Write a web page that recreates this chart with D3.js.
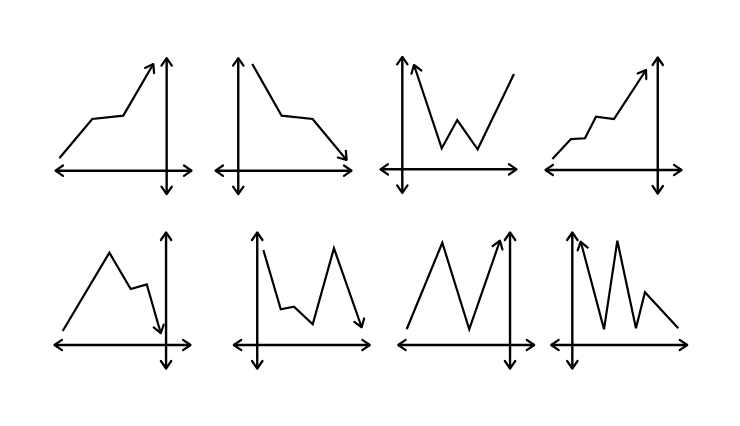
<!DOCTYPE html>
<html>
<head>
<meta charset="utf-8">
<script src="https://cdn.jsdelivr.net/npm/d3@7"></script>
<style>
  html, body { margin: 0; padding: 0; background: #fff; }
  svg { display: block; }
</style>
</head>
<body>
<svg id="chart" width="740" height="426"></svg>
<script>
// ---- Data (values in each panel's own units: x 0..100 along the horizontal axis, y 0..100 above it) ----
const panel1X = [3.2, 27.4, 50.2, 72.3];
const panel1Y = [11.0, 45.8, 48.7, 94.4];
const panel2X = [27.4, 49.0, 71.8, 96.8];
const panel2Y = [94.4, 48.7, 45.8, 9.5];
const panel3X = [25.0, 45.4, 56.8, 71.8, 98.5];
const panel3Y = [92.3, 18.6, 43.6, 17.7, 84.3];
const panel4X = [5.4, 19.1, 29.4, 37.5, 50.7, 74.3];
const panel4Y = [9.7, 27.4, 28.1, 47.2, 45.1, 88.5];
const panel5X = [6.4, 40.7, 56.4, 68.2, 78.5];
const panel5Y = [12.4, 81.7, 49.6, 53.7, 10.4];
const panel6X = [22.1, 34.9, 44.6, 58.4, 74.0, 94.4];
const panel6Y = [84.1, 31.6, 33.9, 18.3, 85.6, 15.7];
const panel7X = [6.6, 32.8, 52.6, 75.2];
const panel7Y = [13.9, 90.5, 13.9, 92.3];
const panel8X = [22.1, 39.2, 49.0, 62.7, 69.3, 93.8];
const panel8Y = [91.4, 13.9, 92.3, 14.8, 46.6, 14.8];
// position of the vertical axis along the x units
const verticalAxisAt = [82.1, 17.1, 16.4, 82.9, 82.4, 17.6, 82.6, 15.9];
// which end of the series carries the arrowhead
const arrowEnd = ["end", "end", "start", "end", "end", "end", "end", "start"];

const seriesX = [panel1X, panel2X, panel3X, panel4X, panel5X, panel6X, panel7X, panel8X];
const seriesY = [panel1Y, panel2Y, panel3Y, panel4Y, panel5Y, panel6Y, panel7Y, panel8Y];

// ---- Layout ----
const frames = [
  {left: 55,    axisY: 170.7},
  {left: 215,   axisY: 170.7},
  {left: 380,   axisY: 169.3},
  {left: 545,   axisY: 170.0},
  {left: 54,    axisY: 345.0},
  {left: 233.3, axisY: 345.0},
  {left: 397.7, axisY: 345.0},
  {left: 550.7, axisY: 345.0}
];
const W = 136, UP = 113, DOWN = 23;

const svg = d3.select("#chart");
const defs = svg.append("defs");
defs.append("marker")
  .attr("id", "chev")
  .attr("markerUnits", "userSpaceOnUse")
  .attr("viewBox", "-12 -8 16 16")
  .attr("refX", 0).attr("refY", 0)
  .attr("markerWidth", 16).attr("markerHeight", 16)
  .attr("orient", "auto-start-reverse")
  .append("path")
  .attr("d", "M-7.5,-5.2 L0,0 L-7.5,5.2")
  .attr("fill", "none")
  .attr("stroke", "#000")
  .attr("stroke-width", 2.2)
  .attr("stroke-linecap", "round")
  .attr("stroke-linejoin", "round");

frames.forEach((f, i) => {
  const x = d3.scaleLinear().domain([0, 100]).range([f.left, f.left + W]);
  const y = d3.scaleLinear().domain([-DOWN * 100 / UP, 100]).range([f.axisY + DOWN, f.axisY - UP]);
  const g = svg.append("g");

  const xAxis = g.append("g")
    .attr("transform", `translate(0,${y(0) - 0.5})`)
    .call(d3.axisBottom(x).ticks(0).tickSizeOuter(0));
  const yAxis = g.append("g")
    .attr("transform", `translate(${x(verticalAxisAt[i]) - 0.5},0)`)
    .call(d3.axisLeft(y).ticks(0).tickSizeOuter(0));
  [xAxis, yAxis].forEach(a => {
    a.selectAll(".tick").remove();
    a.select(".domain")
      .attr("stroke", "#000")
      .attr("stroke-width", 2.4)
      .attr("marker-start", "url(#chev)")
      .attr("marker-end", "url(#chev)");
  });

  const pts = seriesX[i].map((v, k) => [v, seriesY[i][k]]);
  const line = d3.line().x(d => x(d[0])).y(d => y(d[1]));
  g.append("path")
    .datum(pts)
    .attr("d", line)
    .attr("fill", "none")
    .attr("stroke", "#000")
    .attr("stroke-width", 2.2)
    .attr("stroke-linejoin", "miter")
    .attr(arrowEnd[i] === "start" ? "marker-start" : "marker-end", "url(#chev)");
});
</script>
</body>
</html>
